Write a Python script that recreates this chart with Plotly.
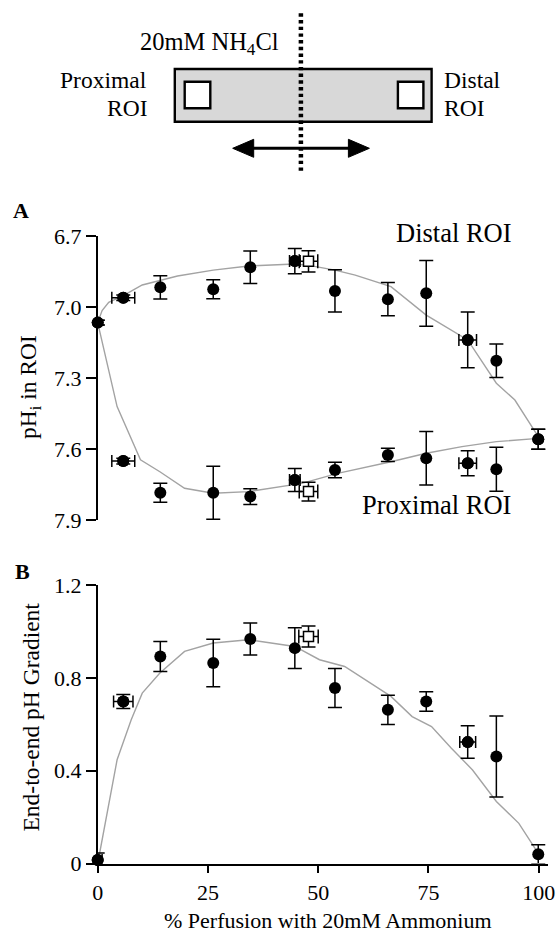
import plotly.graph_objects as go

W, H = 557, 935
FONT = "Liberation Serif"

# ---------------- data ----------------
x_pts = [0, 5.8, 14.2, 26.2, 34.6, 44.7, 53.8, 65.8, 74.5, 83.9, 90.4, 99.9]

distal = [7.066, 6.961, 6.917, 6.925, 6.832, 6.806, 6.932, 6.967, 6.942, 7.139, 7.227, 7.559]
distal_err = [0.01, 0.012, 0.049, 0.040, 0.069, 0.053, 0.089, 0.070, 0.139, 0.118, 0.071, 0.042]

proximal = [7.066, 7.651, 7.785, 7.785, 7.801, 7.731, 7.689, 7.625, 7.639, 7.660, 7.686, 7.559]
proximal_err = [0.01, 0.012, 0.040, 0.112, 0.033, 0.049, 0.033, 0.028, 0.113, 0.053, 0.093, 0.042]

# horizontal error bars (only some points)
hx_x = [5.8, 44.7, 83.9]
hx_err = [2.6, 1.2, 2.0]
hx_distal = [6.961, 6.806, 7.139]
hx_proximal = [7.651, 7.731, 7.660]

# open squares
open_x = [47.8]
open_xerr = [2.1]
open_distal = [6.807]
open_distal_err = [0.045]
open_proximal = [7.780]
open_proximal_err = [0.040]

# fitted curves panel A
distal_fit_x = [0, 1.0, 2.5, 5.8, 10.1, 18.1, 26.2, 34.2, 44.7, 47.9, 53.8, 58.4, 66.5, 74.5, 83.9, 90.4,
                94.6, 99.9]
distal_fit_y = [7.066, 7.015, 6.980, 6.952, 6.907, 6.869, 6.844, 6.827, 6.818, 6.824, 6.844, 6.865, 6.914,
                7.034, 7.139, 7.322, 7.393, 7.548]
prox_fit_x = [0, 4.4, 9.7, 14.1, 19.7, 26.2, 34.2, 46.3, 54.4, 66.5, 74.5, 82.6, 90.4, 99.9]
prox_fit_y = [7.066, 7.421, 7.646, 7.696, 7.766, 7.787, 7.780, 7.745, 7.703, 7.654, 7.618, 7.590, 7.569, 7.555]

# panel B
grad = [0.015, 0.698, 0.892, 0.864, 0.967, 0.928, 0.756, 0.662, 0.698, 0.523, 0.461, 0.040]
grad_err = [0.03, 0.03, 0.065, 0.102, 0.069, 0.088, 0.084, 0.063, 0.042, 0.07, 0.175, 0.041]
grad_hx_x = [0, 5.8, 83.9]
grad_hx_y = [0.015, 0.698, 0.523]
grad_hx_err = [1.0, 2.2, 1.8]
open_grad = [0.978]
open_grad_err = [0.045]
open_grad_xerr = [2.2]

grad_fit_x = [0, 4.4, 7.6, 10.1, 14.1, 19.7, 26.2, 34.2, 44.7, 50.3, 56.0, 66.5, 71.3, 75.7, 80.2, 85.0,
              90.4, 95.5, 99.9]
grad_fit_y = [0, 0.447, 0.619, 0.734, 0.821, 0.914, 0.950, 0.964, 0.935, 0.878, 0.849, 0.720, 0.633, 0.590,
              0.497, 0.403, 0.267, 0.173, 0.044]

x_ticks = [0, 25, 50, 75, 100]
a_ticks = [6.7, 7.0, 7.3, 7.6, 7.9]
b_ticks = [0, 0.4, 0.8, 1.2]


# ---------------- helpers ----------------
def px(x):
    return x / W


def py(y):
    return 1 - y / H


BLACK = "black"
GRAY = "#a3a3a3"

fig = go.Figure()


def add_panel(xa, ya, fits, series, hx, opens):
    for fx, fy in fits:
        fig.add_trace(go.Scatter(x=fx, y=fy, mode="lines", line=dict(color=GRAY, width=1.4),
                                 xaxis=xa, yaxis=ya, showlegend=False, hoverinfo="skip"))
    for sy, se in series:
        fig.add_trace(go.Scatter(x=x_pts, y=sy, mode="markers",
                                 marker=dict(color=BLACK, size=12, symbol="circle"),
                                 error_y=dict(type="data", array=se, color=BLACK, thickness=1.5, width=7),
                                 xaxis=xa, yaxis=ya, showlegend=False, cliponaxis=False))
    for hxx, hyy, hee in hx:
        fig.add_trace(go.Scatter(x=hxx, y=hyy, mode="markers",
                                 marker=dict(color=BLACK, size=12, symbol="circle"),
                                 error_x=dict(type="data", array=hee, color=BLACK, thickness=1.5, width=6),
                                 xaxis=xa, yaxis=ya, showlegend=False, cliponaxis=False))
    for ox, oy, oe, oxe in opens:
        fig.add_trace(go.Scatter(x=ox, y=oy, mode="markers",
                                 marker=dict(color="white", size=10, symbol="square",
                                             line=dict(color=BLACK, width=1.5)),
                                 error_y=dict(type="data", array=oe, color=BLACK, thickness=1.5, width=7),
                                 error_x=dict(type="data", array=oxe, color=BLACK, thickness=1.5, width=7),
                                 xaxis=xa, yaxis=ya, showlegend=False, cliponaxis=False))


# Panel A (x2, y2)
add_panel("x2", "y2",
          [(distal_fit_x, distal_fit_y), (prox_fit_x, prox_fit_y)],
          [(distal, distal_err), (proximal, proximal_err)],
          [(hx_x, hx_distal, hx_err), (hx_x, hx_proximal, hx_err)],
          [(open_x, open_distal, open_distal_err, open_xerr),
           (open_x, open_proximal, open_proximal_err, open_xerr)])

# Panel B (x, y)
add_panel("x", "y",
          [(grad_fit_x, grad_fit_y)],
          [(grad, grad_err)],
          [(grad_hx_x, grad_hx_y, grad_hx_err)],
          [(open_x, open_grad, open_grad_err, open_grad_xerr)])

x_dom = [px(97.7), px(548.4)]
x_rng = [0, 102.2]
tickfont = dict(family=FONT, size=22, color=BLACK)

fig.update_layout(
    width=W, height=H,
    margin=dict(l=0, r=0, t=0, b=0),
    template="none",
    paper_bgcolor="white", plot_bgcolor="white",
    font=dict(family=FONT, color=BLACK),
    showlegend=False,
    xaxis=dict(domain=x_dom, range=x_rng, anchor="y", showline=True, linecolor=BLACK, linewidth=1.6,
               ticks="outside", ticklen=8, tickwidth=1.6, tickcolor=BLACK, tickvals=x_ticks,
               ticktext=[str(t) for t in x_ticks], tickfont=tickfont, showgrid=False, zeroline=False,
               automargin=False),
    yaxis=dict(domain=[py(863.5), py(585)], range=[0, 1.2], anchor="x", showline=True, linecolor=BLACK,
               linewidth=1.6, ticks="outside", ticklen=10, tickwidth=1.6, tickcolor=BLACK,
               tickvals=b_ticks, ticktext=["0", "0.4", "0.8", "1.2"], tickfont=tickfont,
               showgrid=False, zeroline=False, automargin=False),
    xaxis2=dict(domain=x_dom, range=x_rng, anchor="y2", showline=False, showticklabels=False, ticks="",
                showgrid=False, zeroline=False, automargin=False),
    yaxis2=dict(domain=[py(520), py(236)], range=[7.9, 6.7], anchor="x2", showline=True, linecolor=BLACK,
                linewidth=1.6, ticks="outside", ticklen=10, tickwidth=1.6, tickcolor=BLACK,
                tickvals=a_ticks, ticktext=["6.7", "7.0", "7.3", "7.6", "7.9"], tickfont=tickfont,
                showgrid=False, zeroline=False, automargin=False),
)


def ann(text, x, y, size, bold=False, angle=0, xanchor="center"):
    if bold:
        text = "<b>" + text + "</b>"
    fig.add_annotation(text=text, x=px(x), y=py(y), xref="paper", yref="paper", showarrow=False,
                       xanchor=xanchor, yanchor="middle", textangle=angle,
                       font=dict(family=FONT, size=size, color=BLACK))


ann("A", 21.3, 210.7, 22, bold=True)
ann("B", 22.7, 571.7, 22, bold=True)
ann("Distal ROI", 453.8, 233, 26.5)
ann("Proximal ROI", 436.8, 505, 26.5)
ann("pH<sub>i</sub> in ROI", 30, 387, 23.5, angle=-90)
ann("End-to-end pH Gradient", 30, 717.5, 23.5, angle=-90)
ann("% Perfusion with 20mM Ammonium", 327.5, 920, 22)

# ---------------- schematic at top ----------------
ann("20mM NH<sub>4</sub>Cl", 209.6, 43.3, 24.5)
ann("Proximal", 149.2, 80, 23.5, xanchor="right")
ann("ROI", 149.2, 108, 23.5, xanchor="right")
ann("Distal", 442.3, 80, 23.5, xanchor="left")
ann("ROI", 442.3, 108, 23.5, xanchor="left")


def rect(x0, y0, x1, y1, fill, lw):
    fig.add_shape(type="rect", xref="paper", yref="paper", x0=px(x0), x1=px(x1), y0=py(y1), y1=py(y0),
                  fillcolor=fill, line=dict(color=BLACK, width=lw), layer="above")


rect(174.8, 69, 431.6, 121.7, "#d8d8d8", 2.4)
rect(184.7, 81.7, 210.3, 108.3, "white", 2.4)
rect(397.9, 81.7, 423.4, 108.3, "white", 2.4)

# double arrow
ay = 148.3
xl, xr = 232.7, 369.4
head_l, head_h = 21, 9
fig.add_shape(type="line", xref="paper", yref="paper", x0=px(xl + 10), x1=px(xr - 10), y0=py(ay), y1=py(ay),
              line=dict(color=BLACK, width=3), layer="above")


def tri(tip, base):
    return "M {} {} L {} {} L {} {} Z".format(px(tip), py(ay), px(base), py(ay - head_h), px(base),
                                             py(ay + head_h))


fig.add_shape(type="path", xref="paper", yref="paper", path=tri(xl, xl + head_l), fillcolor=BLACK,
              line=dict(color=BLACK, width=1), layer="above")
fig.add_shape(type="path", xref="paper", yref="paper", path=tri(xr, xr - head_l), fillcolor=BLACK,
              line=dict(color=BLACK, width=1), layer="above")

# dotted vertical line
fig.add_shape(type="line", xref="paper", yref="paper", x0=px(300.9), x1=px(300.9), y0=py(13.3), y1=py(173.3),
              line=dict(color=BLACK, width=4.5, dash="3.4px,3.3px"), layer="above")

fig.write_html("out.html")
